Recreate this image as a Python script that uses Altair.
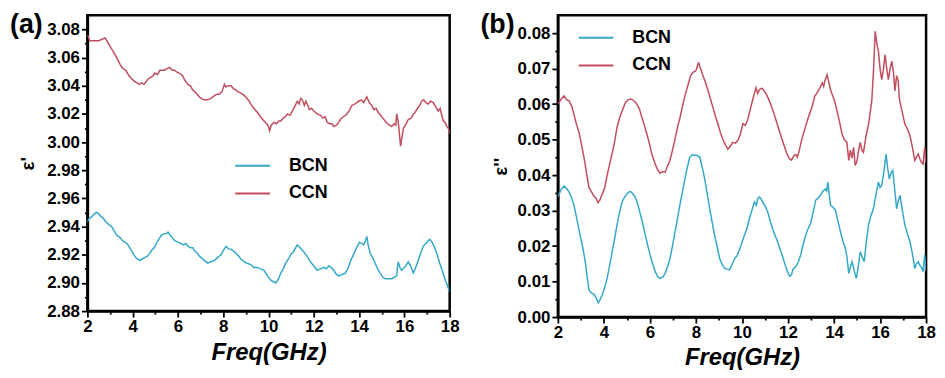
import altair as alt
import pandas as pd

FONT = "Liberation Sans"
BCN_COLOR = "#34A8C8"
CCN_COLOR = "#C24D5D"
SERIES = ["BCN", "CCN"]
X_TICKS = list(range(2, 19))

# ---------------- panel (a): epsilon' ----------------
a_ccn_f = [2.00, 2.04, 2.10, 2.19, 2.35, 2.50, 2.65, 2.78, 2.90, 3.00, 3.15, 3.29, 3.45, 3.58, 3.70, 3.80,
           3.95, 4.09, 4.20, 4.30, 4.39, 4.50, 4.60, 4.68, 4.80, 4.90, 4.97, 5.10, 5.20, 5.27, 5.40, 5.50,
           5.63, 5.75, 5.85, 5.92, 6.05, 6.15, 6.21, 6.30, 6.44, 6.55, 6.65, 6.73, 6.85, 6.95, 7.02, 7.15,
           7.31, 7.45, 7.61, 7.72, 7.83, 7.95, 8.05, 8.12, 8.20, 8.34, 8.45, 8.55, 8.63, 8.75, 8.85, 8.93,
           9.05, 9.15, 9.22, 9.35, 9.51, 9.65, 9.80, 9.92, 10.00, 10.05, 10.12, 10.24, 10.35, 10.45, 10.54,
           10.65, 10.75, 10.83, 10.95, 11.05, 11.15, 11.27, 11.35, 11.42, 11.49, 11.58, 11.65, 11.71, 11.80,
           11.90, 12.00, 12.15, 12.30, 12.40, 12.50, 12.59, 12.70, 12.80, 12.88, 13.00, 13.10, 13.17, 13.30,
           13.40, 13.46, 13.55, 13.68, 13.80, 13.90, 13.98, 14.10, 14.20, 14.34, 14.45, 14.56, 14.65, 14.75,
           14.85, 14.95, 15.05, 15.15, 15.25, 15.35, 15.44, 15.55, 15.62, 15.66, 15.72, 15.77, 15.83, 15.90,
           15.96, 16.05, 16.17, 16.30, 16.40, 16.47, 16.58, 16.68, 16.76, 16.85, 16.95, 17.06, 17.15, 17.28,
           17.38, 17.50, 17.58, 17.65, 17.72, 17.80, 17.88, 17.97, 18.00]
a_ccn_v = [3.076, 3.075, 3.072, 3.072, 3.072, 3.072, 3.073, 3.074, 3.071, 3.068, 3.064, 3.060, 3.055, 3.052,
           3.051, 3.048, 3.045, 3.043, 3.042, 3.041, 3.042, 3.041, 3.043, 3.045, 3.046, 3.047, 3.049, 3.048,
           3.051, 3.051, 3.051, 3.052, 3.053, 3.051, 3.051, 3.050, 3.049, 3.048, 3.047, 3.044, 3.041, 3.040,
           3.037, 3.036, 3.034, 3.032, 3.031, 3.030, 3.030, 3.031, 3.033, 3.034, 3.034, 3.036, 3.041, 3.039,
           3.040, 3.040, 3.038, 3.037, 3.036, 3.035, 3.034, 3.033, 3.031, 3.029, 3.027, 3.024, 3.021, 3.018,
           3.015, 3.013, 3.011, 3.008, 3.012, 3.014, 3.013, 3.015, 3.015, 3.017, 3.018, 3.020, 3.019, 3.022,
           3.025, 3.029, 3.027, 3.031, 3.030, 3.026, 3.029, 3.027, 3.023, 3.024, 3.022, 3.020, 3.019, 3.017,
           3.018, 3.014, 3.013, 3.013, 3.011, 3.012, 3.014, 3.016, 3.018, 3.019, 3.020, 3.022, 3.026, 3.027,
           3.028, 3.029, 3.030, 3.028, 3.032, 3.028, 3.026, 3.023, 3.024, 3.021, 3.019, 3.017, 3.015, 3.013,
           3.012, 3.011, 3.013, 3.012, 3.020, 3.015, 3.008, 2.997, 3.004, 3.010, 3.012, 3.016, 3.017, 3.020,
           3.021, 3.024, 3.026, 3.029, 3.030, 3.028, 3.027, 3.029, 3.028, 3.025, 3.022, 3.024, 3.019, 3.015,
           3.014, 3.011, 3.009, 3.006]

a_bcn_f = [2.00, 2.04, 2.10, 2.20, 2.30, 2.41, 2.50, 2.60, 2.70, 2.78, 2.90, 3.07, 3.18, 3.29, 3.45, 3.55,
           3.65, 3.75, 3.87, 3.98, 4.09, 4.20, 4.31, 4.42, 4.53, 4.65, 4.75, 4.83, 4.95, 5.05, 5.15, 5.27,
           5.40, 5.50, 5.56, 5.65, 5.75, 5.85, 6.00, 6.14, 6.25, 6.35, 6.44, 6.55, 6.65, 6.73, 6.85, 6.95,
           7.02, 7.15, 7.31, 7.45, 7.61, 7.75, 7.90, 8.00, 8.12, 8.25, 8.34, 8.50, 8.63, 8.78, 8.93, 9.05,
           9.22, 9.35, 9.51, 9.65, 9.80, 9.95, 10.10, 10.20, 10.32, 10.45, 10.54, 10.65, 10.76, 10.88, 10.98,
           11.10, 11.20, 11.27, 11.40, 11.56, 11.70, 11.85, 12.00, 12.15, 12.30, 12.44, 12.55, 12.66, 12.77,
           12.88, 13.00, 13.10, 13.25, 13.39, 13.50, 13.61, 13.72, 13.83, 13.92, 14.02, 14.12, 14.20, 14.28,
           14.34, 14.40, 14.49, 14.60, 14.71, 14.82, 14.93, 15.05, 15.15, 15.30, 15.44, 15.55, 15.66, 15.70,
           15.73, 15.80, 15.88, 16.00, 16.10, 16.17, 16.28, 16.39, 16.50, 16.61, 16.72, 16.83, 16.95, 17.05,
           17.12, 17.22, 17.34, 17.45, 17.56, 17.67, 17.78, 17.88, 17.97, 18.00]
a_bcn_v = [2.943, 2.945, 2.946, 2.947, 2.949, 2.950, 2.949, 2.947, 2.946, 2.944, 2.942, 2.940, 2.937, 2.934,
           2.932, 2.930, 2.929, 2.928, 2.925, 2.922, 2.919, 2.917, 2.916, 2.917, 2.918, 2.919, 2.921, 2.923,
           2.925, 2.928, 2.931, 2.934, 2.935, 2.935, 2.936, 2.934, 2.932, 2.930, 2.929, 2.928, 2.927, 2.928,
           2.926, 2.925, 2.925, 2.923, 2.921, 2.919, 2.918, 2.916, 2.914, 2.915, 2.916, 2.918, 2.920, 2.923,
           2.926, 2.924, 2.924, 2.922, 2.920, 2.917, 2.915, 2.914, 2.913, 2.911, 2.911, 2.910, 2.909, 2.905,
           2.902, 2.901, 2.900, 2.903, 2.907, 2.910, 2.914, 2.917, 2.920, 2.922, 2.925, 2.927, 2.925, 2.922,
           2.919, 2.915, 2.912, 2.909, 2.910, 2.911, 2.910, 2.912, 2.911, 2.909, 2.906, 2.905, 2.906, 2.907,
           2.910, 2.915, 2.919, 2.923, 2.926, 2.929, 2.928, 2.927, 2.930, 2.933, 2.927, 2.921, 2.918, 2.914,
           2.910, 2.907, 2.904, 2.903, 2.903, 2.903, 2.904, 2.905, 2.912, 2.915, 2.911, 2.909, 2.911, 2.913,
           2.915, 2.912, 2.907, 2.911, 2.916, 2.921, 2.926, 2.928, 2.930, 2.931, 2.929, 2.925, 2.920, 2.914,
           2.909, 2.903, 2.899, 2.895, 2.894]

# ---------------- panel (b): epsilon'' ----------------
b_ccn_f = [2.00, 2.06, 2.15, 2.27, 2.38, 2.49, 2.60, 2.70, 2.80, 2.92, 3.03, 3.14, 3.25, 3.35, 3.47, 3.57,
           3.66, 3.74, 3.83, 3.93, 4.04, 4.14, 4.25, 4.36, 4.47, 4.57, 4.70, 4.82, 4.93, 5.05, 5.15, 5.25,
           5.36, 5.44, 5.55, 5.65, 5.76, 5.87, 5.98, 6.08, 6.23, 6.33, 6.44, 6.55, 6.66, 6.76, 6.87, 6.98,
           7.09, 7.20, 7.30, 7.45, 7.55, 7.66, 7.77, 7.88, 7.96, 8.02, 8.08, 8.12, 8.20, 8.31, 8.42, 8.53,
           8.64, 8.74, 8.85, 8.96, 9.06, 9.17, 9.28, 9.39, 9.50, 9.60, 9.71, 9.82, 9.93, 10.04, 10.14, 10.25,
           10.36, 10.47, 10.56, 10.61, 10.68, 10.76, 10.86, 10.97, 11.08, 11.19, 11.30, 11.40, 11.51, 11.62,
           11.72, 11.83, 11.94, 12.05, 12.15, 12.26, 12.34, 12.41, 12.52, 12.62, 12.73, 12.84, 12.95, 13.06,
           13.16, 13.27, 13.38, 13.49, 13.55, 13.60, 13.70, 13.78, 13.85, 13.92, 14.02, 14.13, 14.24, 14.35,
           14.45, 14.56, 14.64, 14.71, 14.78, 14.85, 14.92, 15.00, 15.07, 15.14, 15.21, 15.28, 15.39, 15.50,
           15.64, 15.72, 15.79, 15.86, 15.93, 16.00, 16.07, 16.15, 16.22, 16.29, 16.36, 16.44, 16.51, 16.58,
           16.65, 16.72, 16.79, 16.83, 16.87, 16.97, 17.08, 17.19, 17.30, 17.40, 17.51, 17.58, 17.66, 17.73,
           17.80, 17.87, 17.94, 18.00]
b_ccn_v = [0.0600, 0.0604, 0.0615, 0.0623, 0.0612, 0.0609, 0.0595, 0.0571, 0.0545, 0.0520, 0.0485, 0.0448,
           0.0405, 0.0365, 0.0352, 0.0340, 0.0335, 0.0322, 0.0330, 0.0347, 0.0365, 0.0399, 0.0430, 0.0462,
           0.0495, 0.0534, 0.0565, 0.0585, 0.0604, 0.0612, 0.0614, 0.0612, 0.0606, 0.0599, 0.0585, 0.0562,
           0.0540, 0.0515, 0.0488, 0.0459, 0.0431, 0.0415, 0.0405, 0.0410, 0.0408, 0.0425, 0.0441, 0.0470,
           0.0501, 0.0535, 0.0560, 0.0604, 0.0630, 0.0655, 0.0680, 0.0690, 0.0692, 0.0697, 0.0712, 0.0716,
           0.0700, 0.0679, 0.0660, 0.0637, 0.0612, 0.0590, 0.0565, 0.0543, 0.0520, 0.0500, 0.0485, 0.0473,
           0.0482, 0.0492, 0.0490, 0.0497, 0.0515, 0.0545, 0.0540, 0.0555, 0.0585, 0.0613, 0.0635, 0.0646,
           0.0630, 0.0641, 0.0645, 0.0637, 0.0625, 0.0609, 0.0590, 0.0571, 0.0548, 0.0525, 0.0505, 0.0483,
           0.0462, 0.0447, 0.0442, 0.0455, 0.0458, 0.0450, 0.0478, 0.0506, 0.0530, 0.0553, 0.0575, 0.0595,
           0.0622, 0.0632, 0.0645, 0.0660, 0.0650, 0.0665, 0.0683, 0.0660, 0.0640, 0.0627, 0.0610, 0.0581,
           0.0550, 0.0515, 0.0500, 0.0492, 0.0441, 0.0470, 0.0448, 0.0478, 0.0427, 0.0440, 0.0470, 0.0492,
           0.0470, 0.0464, 0.0510, 0.0543, 0.0609, 0.0700, 0.0805, 0.0770, 0.0749, 0.0700, 0.0669, 0.0700,
           0.0739, 0.0700, 0.0669, 0.0700, 0.0721, 0.0690, 0.0637, 0.0680, 0.0665, 0.0620, 0.0604, 0.0575,
           0.0543, 0.0530, 0.0511, 0.0480, 0.0441, 0.0450, 0.0459, 0.0445, 0.0436, 0.0431, 0.0478, 0.0435]

b_bcn_f = [2.00, 2.06, 2.15, 2.27, 2.38, 2.49, 2.60, 2.70, 2.78, 2.85, 2.95, 3.06, 3.14, 3.21, 3.28, 3.35,
           3.45, 3.57, 3.66, 3.75, 3.84, 3.93, 4.04, 4.14, 4.25, 4.36, 4.47, 4.57, 4.68, 4.79, 4.90, 5.00,
           5.08, 5.15, 5.25, 5.36, 5.47, 5.58, 5.69, 5.80, 5.90, 6.01, 6.12, 6.23, 6.33, 6.44, 6.55, 6.66,
           6.76, 6.87, 6.98, 7.09, 7.20, 7.30, 7.41, 7.52, 7.62, 7.73, 7.84, 7.95, 8.06, 8.17, 8.28, 8.38,
           8.49, 8.60, 8.70, 8.81, 8.92, 9.03, 9.14, 9.25, 9.35, 9.46, 9.57, 9.68, 9.78, 9.89, 10.00, 10.11,
           10.22, 10.32, 10.43, 10.54, 10.62, 10.69, 10.76, 10.83, 10.90, 11.01, 11.12, 11.22, 11.33, 11.44,
           11.55, 11.66, 11.77, 11.87, 11.98, 12.08, 12.15, 12.22, 12.34, 12.45, 12.55, 12.66, 12.77, 12.88,
           12.98, 13.09, 13.20, 13.30, 13.41, 13.52, 13.63, 13.68, 13.73, 13.80, 13.85, 13.95, 14.06, 14.17,
           14.28, 14.38, 14.49, 14.56, 14.64, 14.71, 14.78, 14.88, 14.97, 15.05, 15.14, 15.22, 15.31, 15.40,
           15.50, 15.60, 15.71, 15.82, 15.93, 16.00, 16.07, 16.17, 16.26, 16.33, 16.40, 16.47, 16.55, 16.62,
           16.72, 16.80, 16.87, 16.97, 17.08, 17.19, 17.30, 17.40, 17.51, 17.58, 17.66, 17.73, 17.80, 17.87,
           17.94, 18.00]
b_bcn_v = [0.0340, 0.0347, 0.0360, 0.0369, 0.0362, 0.0352, 0.0335, 0.0315, 0.0290, 0.0268, 0.0235, 0.0203,
           0.0175, 0.0147, 0.0110, 0.0077, 0.0068, 0.0064, 0.0055, 0.0040, 0.0050, 0.0063, 0.0085, 0.0109,
           0.0145, 0.0184, 0.0222, 0.0259, 0.0295, 0.0324, 0.0338, 0.0347, 0.0352, 0.0354, 0.0348, 0.0338,
           0.0318, 0.0291, 0.0262, 0.0231, 0.0203, 0.0175, 0.0150, 0.0128, 0.0115, 0.0109, 0.0112, 0.0123,
           0.0140, 0.0165, 0.0200, 0.0240, 0.0278, 0.0315, 0.0352, 0.0389, 0.0420, 0.0450, 0.0457, 0.0456,
           0.0455, 0.0450, 0.0420, 0.0389, 0.0348, 0.0305, 0.0268, 0.0231, 0.0198, 0.0165, 0.0148, 0.0137,
           0.0135, 0.0133, 0.0148, 0.0165, 0.0172, 0.0189, 0.0210, 0.0231, 0.0250, 0.0277, 0.0300, 0.0324,
           0.0315, 0.0335, 0.0338, 0.0333, 0.0324, 0.0312, 0.0296, 0.0272, 0.0249, 0.0230, 0.0212, 0.0190,
           0.0170, 0.0148, 0.0128, 0.0115, 0.0119, 0.0135, 0.0142, 0.0155, 0.0175, 0.0205, 0.0231, 0.0250,
           0.0263, 0.0295, 0.0329, 0.0335, 0.0343, 0.0355, 0.0361, 0.0355, 0.0380, 0.0340, 0.0315, 0.0310,
           0.0301, 0.0270, 0.0240, 0.0215, 0.0193, 0.0170, 0.0123, 0.0140, 0.0156, 0.0130, 0.0109, 0.0140,
           0.0184, 0.0170, 0.0156, 0.0210, 0.0259, 0.0285, 0.0305, 0.0345, 0.0380, 0.0365, 0.0371, 0.0410,
           0.0459, 0.0420, 0.0389, 0.0405, 0.0413, 0.0370, 0.0305, 0.0330, 0.0343, 0.0300, 0.0259, 0.0235,
           0.0212, 0.0180, 0.0137, 0.0150, 0.0156, 0.0145, 0.0140, 0.0128, 0.0175, 0.0130]

a_y_ticks = [round(2.88 + 0.01 * i, 2) for i in range(21)]   # 2.88 ... 3.08 (major + minor)
b_y_ticks = [round(0.005 * i, 3) for i in range(17)]          # 0.000 ... 0.080 (major + minor)


def frame(f1, v1, f2, v2):
    return pd.concat([
        pd.DataFrame({"f": f1, "v": v1, "s": "BCN"}),
        pd.DataFrame({"f": f2, "v": v2, "s": "CCN"}),
    ], ignore_index=True)


def panel(df, ydom, yticks, ymajor, ytitle, label, w, h, lx, ly, xtp, ytp):
    xmajor = "datum.value % 2 == 0"
    lines = alt.Chart(df).mark_line(strokeWidth=1.5, clip=True).encode(
        x=alt.X("f:Q", scale=alt.Scale(domain=[2, 18], nice=False, zero=False),
                axis=alt.Axis(values=X_TICKS, title="Freq(GHz)", format="d",
                              labelExpr=f"{xmajor} ? datum.label : ''",
                              tickSize={"condition": {"test": xmajor, "value": 6}, "value": 3},
                              titlePadding=xtp)),
        y=alt.Y("v:Q", scale=alt.Scale(domain=ydom, nice=False, zero=False),
                axis=alt.Axis(values=yticks, title=ytitle, format=".2f",
                              labelExpr=f"{ymajor} ? datum.label : ''",
                              tickSize={"condition": {"test": ymajor, "value": 6}, "value": 3},
                              titlePadding=ytp)),
        color=alt.Color("s:N", scale=alt.Scale(domain=SERIES, range=[BCN_COLOR, CCN_COLOR]),
                        legend=alt.Legend(orient="none", legendX=lx, legendY=ly, title=None,
                                          symbolType="M-1,0L1,0", symbolSize=1225, symbolStrokeWidth=2,
                                          labelFont=FONT, labelFontSize=18, labelFontWeight="bold",
                                          labelColor="black", labelOffset=18, rowPadding=-10, padding=0)),
    )
    tag = alt.Chart(pd.DataFrame({"t": [label]})).mark_text(
        font=FONT, fontSize=27, fontWeight="bold", align="left", baseline="top", color="black"
    ).encode(text="t:N", x=alt.value(-78), y=alt.value(-3))
    return alt.layer(lines, tag).properties(width=w, height=h)


pa = panel(frame(a_bcn_f, a_bcn_v, a_ccn_f, a_ccn_v), [2.88, 3.09], a_y_ticks,
           "round(datum.value * 100) % 2 == 0", "\u03b5'", "(a)", 365, 298, 148, 133, 6, 9)
pb = panel(frame(b_bcn_f, b_bcn_v, b_ccn_f, b_ccn_v), [0.0, 0.085], b_y_ticks,
           "round(datum.value * 1000) % 10 == 0", "\u03b5''", "(b)", 371, 304, 20, 4, 5, 7)

chart = alt.hconcat(
    pa, pb, spacing=109, bounds="flush", padding=0, background="white"
).resolve_scale(
    x="independent", y="independent", color="independent"
).resolve_legend(color="independent").configure_view(
    stroke="black", strokeWidth=2.5
).configure_axis(
    labelFont=FONT, labelFontSize=17, labelFontWeight="bold", labelColor="black",
    titleFont=FONT, titleColor="black", titleFontWeight="bold",
    domainColor="black", domainWidth=2.5, tickColor="black", tickWidth=1.8,
    labelPadding=2, labelFlush=False, labelOverlap=False, grid=False,
).configure_axisX(
    titleFontSize=24, titleFontStyle="italic"
).configure_axisY(
    titleFontSize=19
)

chart.save("out.html", embed_options={"renderer": "svg", "actions": False})
